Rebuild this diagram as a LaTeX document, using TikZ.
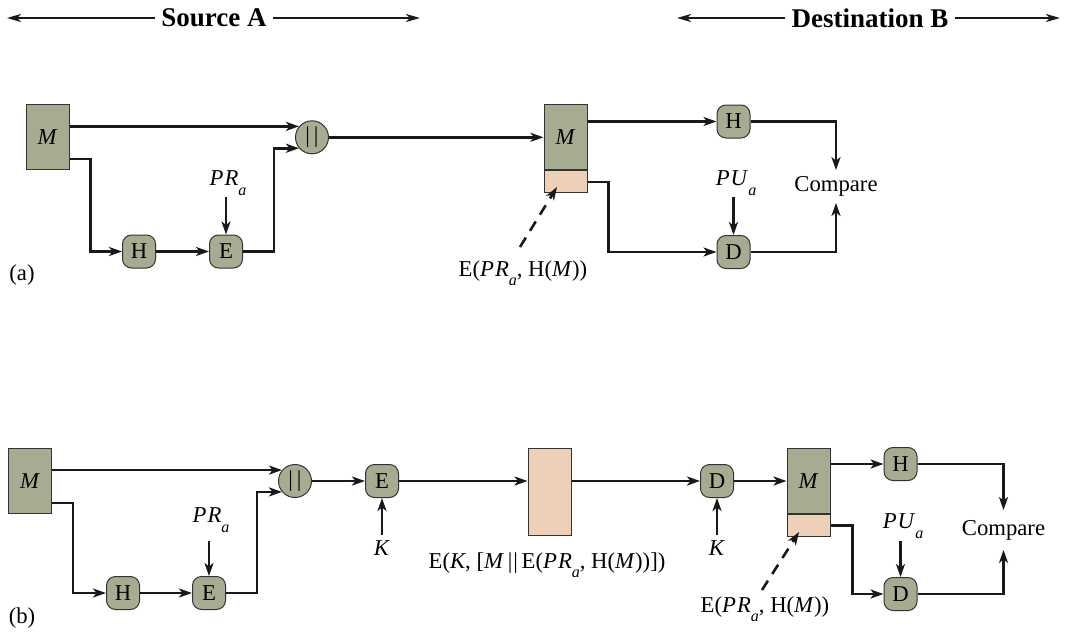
\documentclass[tikz,border=0pt]{standalone}
\usepackage{fontspec}
\setmainfont{Liberation Serif}
\usetikzlibrary{arrows.meta,calc}
\definecolor{boxgreen}{RGB}{166,172,146}
\definecolor{boxtan}{RGB}{238,208,185}
\newcommand{\mysubA}{\raisebox{-0.42em}{\fontsize{16}{16}\selectfont\textit{a}}}
\newcommand{\myPR}{\textit{P\kern1pt R}\mysubA}
\newcommand{\myPU}{\textit{P\kern1pt U}\mysubA}
\newcommand{\mybars}{\textbar\hspace{4pt}\textbar}
\begin{document}
\begin{tikzpicture}[x=1pt,y=-1pt,
  font=\fontsize{22.7}{27}\selectfont,
  conn/.style={line width=2.6pt, draw=black!90, -{Stealth[length=13pt,width=9pt,inset=3.5pt]}},
  hdr/.style={line width=1.8pt, draw=black!90, -{Stealth[length=14pt,width=8pt,inset=4pt]}},
  dasharr/.style={conn, dash pattern=on 11pt off 8pt},
  mbox/.style={draw=black!80, line width=1pt, fill=boxgreen, minimum width=43pt, minimum height=65pt, inner sep=0pt},
  tbox/.style={draw=black!80, line width=1pt, fill=boxtan, minimum width=43pt, minimum height=22pt, inner sep=0pt},
  fbox/.style={draw=black!80, line width=1pt, fill=boxgreen, rounded corners=9pt, minimum width=33pt, minimum height=33pt, inner sep=0pt},
  cat/.style={draw=black!80, line width=1pt, fill=boxgreen, circle, minimum size=33pt, inner sep=0pt},
  hfont/.style={font=\fontsize{27}{32}\selectfont\bfseries, inner sep=6pt}]
\useasboundingbox (0,0) rectangle (1068,634);

% ---------- headers ----------
\node[hfont] (SrcA) at (214,18) {Source A};
\coordinate (hA1) at (7,18);
\coordinate (hA2) at (420,18);
\draw[hdr] (SrcA.west) -- (hA1);
\draw[hdr] (SrcA.east) -- (hA2);
\node[hfont] (DstB) at (870,18) {Destination B};
\coordinate (hB1) at (677,18);
\coordinate (hB2) at (1060,18);
\draw[hdr] (DstB.west) -- (hB1);
\draw[hdr] (DstB.east) -- (hB2);

% ---------- (a) ----------
\node[mbox] (Ma) at (47.5,137.3) {\textit{M}};
\node[cat] (Ca) at (312,137.3) {\mybars};
\node[fbox] (Ha) at (139,251.5) {H};
\node[fbox] (Ea) at (226,251.5) {E};
\node (PRa) at (228,183) {\myPR};
\coordinate (pra) at (226,197);
\draw[conn] (pra) -- (Ea.north);
\draw[conn] (Ma.east |- Ca.140) -- (Ca.140);
\draw[conn] ([yshift=-21.8pt]Ma.east) -- ++(21,0) |- (Ha.west);
\draw[conn] (Ha) -- (Ea);
\draw[conn] (Ea.east) -- ++(31,0) |- (Ca.220);

\node[mbox] (Mb) at (565.5,137.3) {\textit{M}};
\node[tbox, anchor=north] (Sa) at (Mb.south) {};
\draw[conn] (Ca) -- (Mb);
\node[fbox] (Hb) at (733.5,121.5) {H};
\node[fbox] (Db) at (733.5,252) {D};
\draw[conn] (Mb.east |- Hb) -- (Hb);
\draw[conn] (Sa.east) -- ++(21,0) |- (Db);
\node (PUa) at (736,183) {\myPU};
\coordinate (pua) at (733.5,197);
\draw[conn] (pua) -- (Db);
\node[inner xsep=2pt, inner ysep=6.3pt] (Cmpa) at (836,186.5) {Compare};
\draw[conn] (Hb) -| (Cmpa);
\draw[conn] (Db) -| (Cmpa);
\coordinate (dsa) at (520,247);
\coordinate (dta) at (557,187);
\draw[dasharr] (dsa) -- (dta);
\node (Lba) at (523,273) {E(\myPR, H(\textit{M}))};
\node (la) at (22,275) {(a)};

% ---------- (b) ----------
\node[mbox] (Mc) at (30,481) {\textit{M}};
\node[cat] (Cb) at (295,481) {\mybars};
\node[fbox] (Hc) at (123,593) {H};
\node[fbox] (Ec) at (209,593) {E};
\node (PRb) at (211,520) {\myPR};
\coordinate (prb) at (209,541);
\draw[conn] (prb) -- (Ec.north);
\draw[conn] (Mc.east |- Cb.140) -- (Cb.140);
\draw[conn] ([yshift=-22pt]Mc.east) -- ++(21,0) |- (Hc.west);
\draw[conn] (Hc) -- (Ec);
\draw[conn] (Ec.east) -- ++(31,0) |- (Cb.220);

\node[fbox] (Ek) at (382,481) {E};
\draw[conn] (Cb) -- (Ek);
\node[inner sep=5pt] (Ka) at (382,548) {\textit{K}};
\draw[conn] (Ka) -- (Ek);
\node[tbox, minimum height=87pt] (T) at (549.5,491.5) {};
\draw[conn] (Ek) -- (Ek -| T.west);
\node[fbox] (Dk) at (717,481) {D};
\draw[conn] (T.east |- Dk) -- (Dk);
\node[inner sep=5pt] (Kb) at (717,548) {\textit{K}};
\draw[conn] (Kb) -- (Dk);
\node (Lbb) at (547,565) {E(\textit{K}, [\textit{M}\,\textbar\kern1pt\textbar\,E(\myPR, H(\textit{M}))])};

\node[mbox] (Md) at (808.5,481) {\textit{M}};
\node[tbox, anchor=north] (Sb) at (Md.south) {};
\draw[conn] (Dk) -- (Md);
\node[fbox] (Hd) at (900.5,464) {H};
\node[fbox] (Dd) at (900.5,594) {D};
\draw[conn] (Md.east |- Hd) -- (Hd);
\draw[conn] (Sb.east) -- ++(22,0) |- (Dd);
\node (PUb) at (903,526) {\myPU};
\coordinate (pub) at (900.5,541);
\draw[conn] (pub) -- (Dd);
\node[inner xsep=2pt, inner ysep=9.8pt] (Cmpb) at (1003.5,530) {Compare};
\draw[conn] (Hd) -| (Cmpb);
\draw[conn] (Dd) -| (Cmpb);
\coordinate (dsb) at (762,590);
\coordinate (dtb) at (799,532);
\draw[dasharr] (dsb) -- (dtb);
\node (Lbc) at (765,609) {E(\myPR, H(\textit{M}))};
\node (lb) at (22,618) {(b)};
\end{tikzpicture}
\end{document}
